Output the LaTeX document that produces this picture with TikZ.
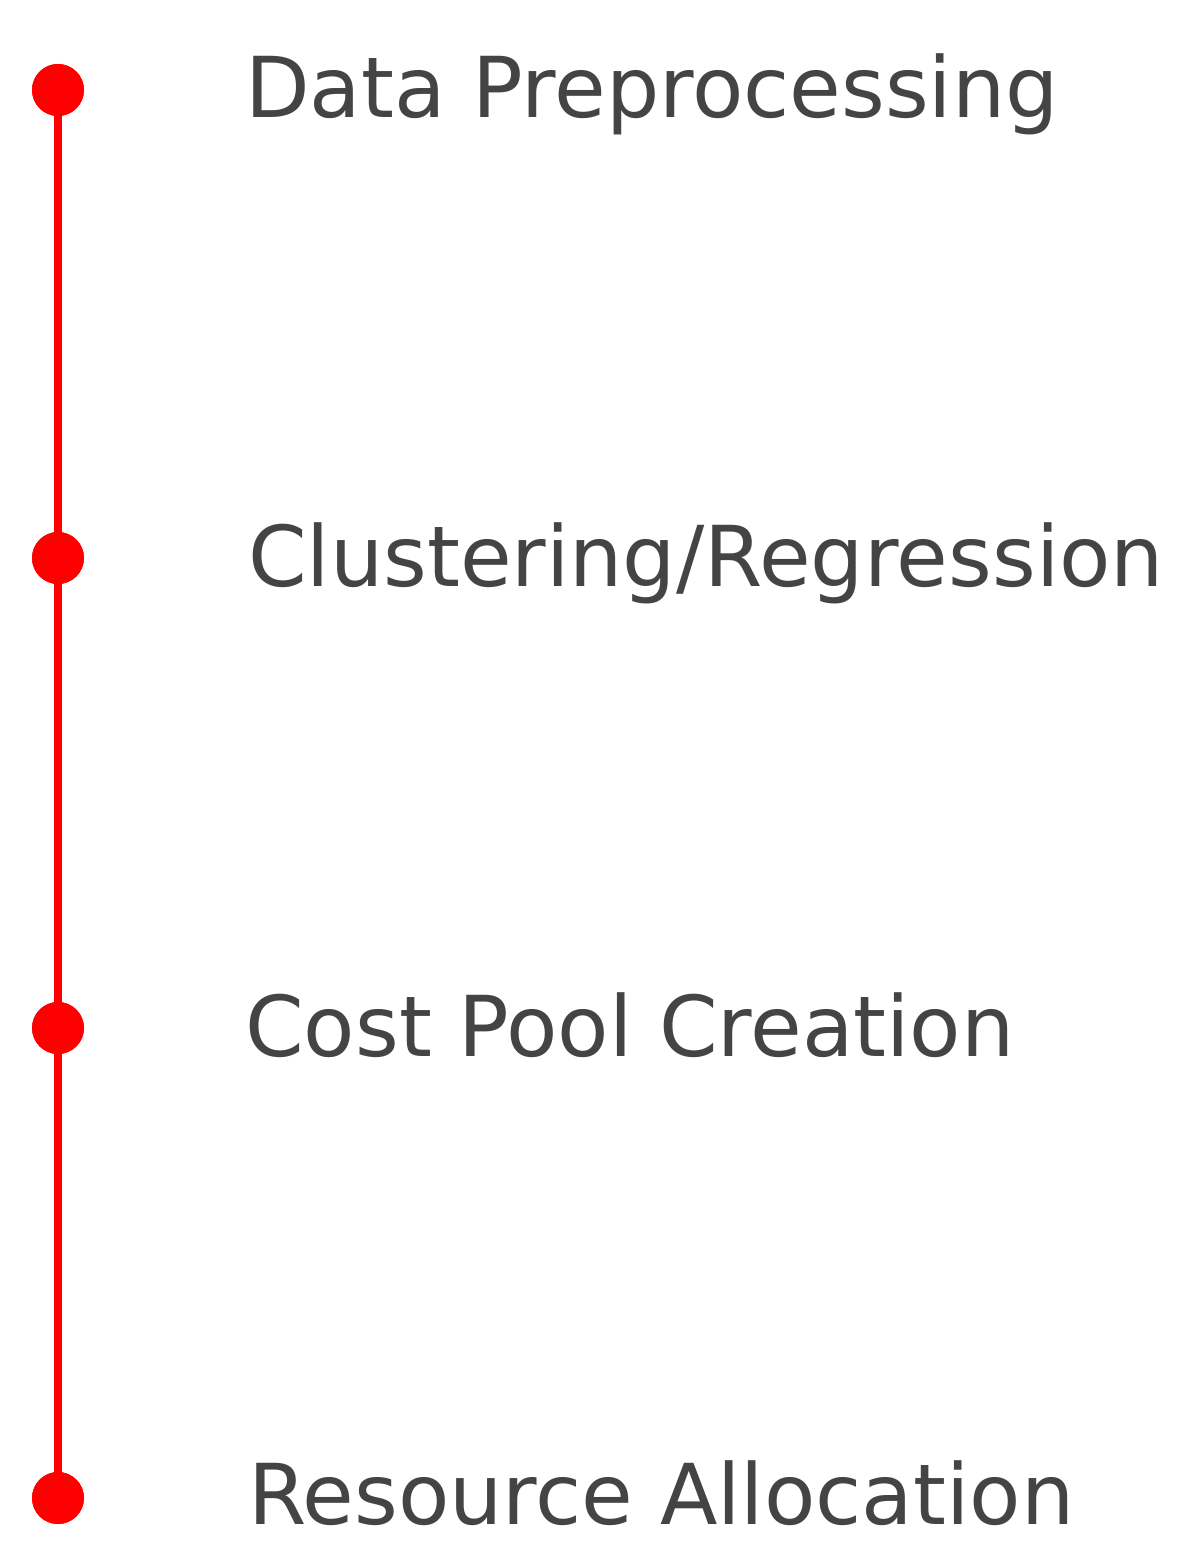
\documentclass[tikz,border=0pt]{standalone}
\usepackage{fontspec}
\setmainfont{DejaVu Sans}
\definecolor{dotred}{RGB}{255,0,0}
\definecolor{txtgray}{RGB}{68,68,68}
\begin{document}
\begin{tikzpicture}[x=1pt,y=-1pt,
  dot/.style={circle,fill=dotred,inner sep=0pt,minimum size=52pt},
  lbl/.style={anchor=base west,text=txtgray,font=\fontsize{84}{96}\selectfont,inner sep=0pt}]
\useasboundingbox (0,0) rectangle (1186,1562);
\node[dot] (d1) at (58,90) {};
\node[dot] (d2) at (58,558) {};
\node[dot] (d3) at (58,1028) {};
\node[dot] (d4) at (58,1498) {};
\draw[dotred,line width=7.5pt] (d1.center) -- (d2.center) -- (d3.center) -- (d4.center);
\node[dot] at (d1) {};
\node[dot] at (d2) {};
\node[dot] at (d3) {};
\node[dot] at (d4) {};
\node[lbl] (t1) at (245,118) {Data Preprocessing};
\node[lbl] (t2) at (248,586) {Clustering/Regression};
\node[lbl] (t3) at (245,1056) {Cost Pool Creation};
\node[lbl] (t4) at (248,1524) {Resource Allocation};
\end{tikzpicture}
\end{document}
